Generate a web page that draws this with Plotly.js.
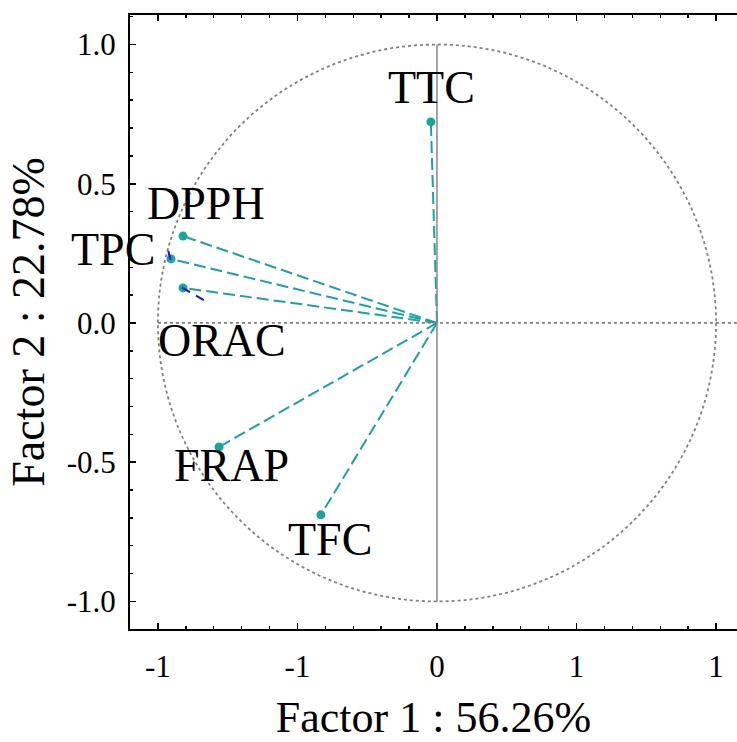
<!DOCTYPE html>
<html>
<head>
<meta charset="utf-8">
<script src="https://cdn.plot.ly/plotly-3.0.1.min.js"></script>
<style>html,body{margin:0;padding:0;background:#fff;}#chart{width:737px;height:742px;}</style>
</head>
<body>
<div id="chart"></div>
<script>
// Variables and loadings (Factor 1, Factor 2)
const variables = ['TTC', 'DPPH', 'TPC', 'ORAC', 'FRAP', 'TFC'];
const factor1 = [-0.022, -0.910, -0.953, -0.910, -0.781, -0.416];
const factor2 = [0.722, 0.312, 0.230, 0.126, -0.445, -0.689];

// Small blue arrow-head fragments seen near TPC and ORAC
const blueX = [[-0.963, -0.955], [-0.913, -0.824]];
const blueY = [[0.259, 0.228], [0.127, 0.075]];

// Tick labels
const xTickVals = [-1, -0.5, 0, 0.5, 1];
const xTickText = ['-1', '-1', '0', '1', '1'];
const yTickVals = [-1, -0.5, 0, 0.5, 1];
const yTickText = ['-1.0', '-0.5', '0.0', '0.5', '1.0'];

const xTitle = 'Factor 1 : 56.26%';
const yTitle = 'Factor 2 : 22.78%';

// label pixel offsets (layout only)
const labelShift = {
  TTC: [1, 34], DPPH: [23, 33], TPC: [-58, 9], ORAC: [39, -53], FRAP: [12, -19], TFC: [9, -25]
};

const teal = '#1aa3a3';
const font = 'Liberation Serif, Times New Roman, serif';

const lx = [], ly = [];
variables.forEach((v, i) => { lx.push(0, factor1[i], null); ly.push(0, factor2[i], null); });

const traces = [
  { x: lx, y: ly, type: 'scatter', mode: 'lines', line: { color: teal, width: 2, dash: '12px,5px' }, hoverinfo: 'skip', showlegend: false },
  { x: factor1, y: factor2, text: variables, type: 'scatter', mode: 'markers', marker: { color: teal, size: 9 }, showlegend: false }
];
blueX.forEach((bx, i) => {
  traces.push({ x: bx, y: blueY[i], type: 'scatter', mode: 'lines', line: { color: '#1010e0', width: 2, dash: '9px,7px' }, hoverinfo: 'skip', showlegend: false });
});

const annotations = variables.map((v, i) => ({
  x: factor1[i], y: factor2[i], text: v, showarrow: false,
  xshift: labelShift[v][0], yshift: labelShift[v][1],
  font: { family: font, size: 46, color: '#000' }, xanchor: 'center', yanchor: 'middle'
}));

const layout = {
  width: 737, height: 742,
  margin: { l: 130, r: 0, t: 15, b: 113 },
  paper_bgcolor: '#fff', plot_bgcolor: '#fff',
  font: { family: font, color: '#000' },
  xaxis: {
    range: [-1.1, 1.075], tickvals: xTickVals, ticktext: xTickText,
    showgrid: false, zeroline: false, showline: true, linecolor: '#000', linewidth: 2, mirror: 'ticks',
    ticks: 'inside', ticklen: 6, tickwidth: 1.5, tickcolor: '#000',
    minor: { dtick: 0.1, ticks: 'inside', ticklen: 3, tickwidth: 1.5, tickcolor: '#000', showgrid: false },
    tickfont: { family: font, size: 31 }, ticklabelstandoff: 9,
    title: { text: xTitle, font: { family: font, size: 44 }, standoff: 24 }
  },
  yaxis: {
    range: [-1.099, 1.106], tickvals: yTickVals, ticktext: yTickText,
    showgrid: false, zeroline: false, showline: true, linecolor: '#000', linewidth: 2,
    ticks: 'inside', ticklen: 6, tickwidth: 1.5, tickcolor: '#000',
    minor: { dtick: 0.1, ticks: 'inside', ticklen: 3, tickwidth: 1.5, tickcolor: '#000', showgrid: false },
    tickfont: { family: font, size: 31 }, ticklabelstandoff: 6,
    title: { text: yTitle, font: { family: font, size: 46 }, standoff: 8 }
  },
  shapes: [
    { type: 'circle', xref: 'x', yref: 'y', x0: -1, x1: 1, y0: -1, y1: 1, line: { color: '#808080', width: 1.8, dash: 'dot' } },
    { type: 'line', xref: 'x', yref: 'y', x0: 0, x1: 0, y0: -1, y1: 1, line: { color: '#888', width: 1.5 } },
    { type: 'line', xref: 'x', yref: 'y', x0: -1, x1: 1.1, y0: 0, y1: 0, line: { color: '#808080', width: 1.8, dash: 'dot' } }
  ],
  annotations: annotations
};

Plotly.newPlot('chart', traces, layout, { displayModeBar: false, staticPlot: true });
</script>
</body>
</html>
